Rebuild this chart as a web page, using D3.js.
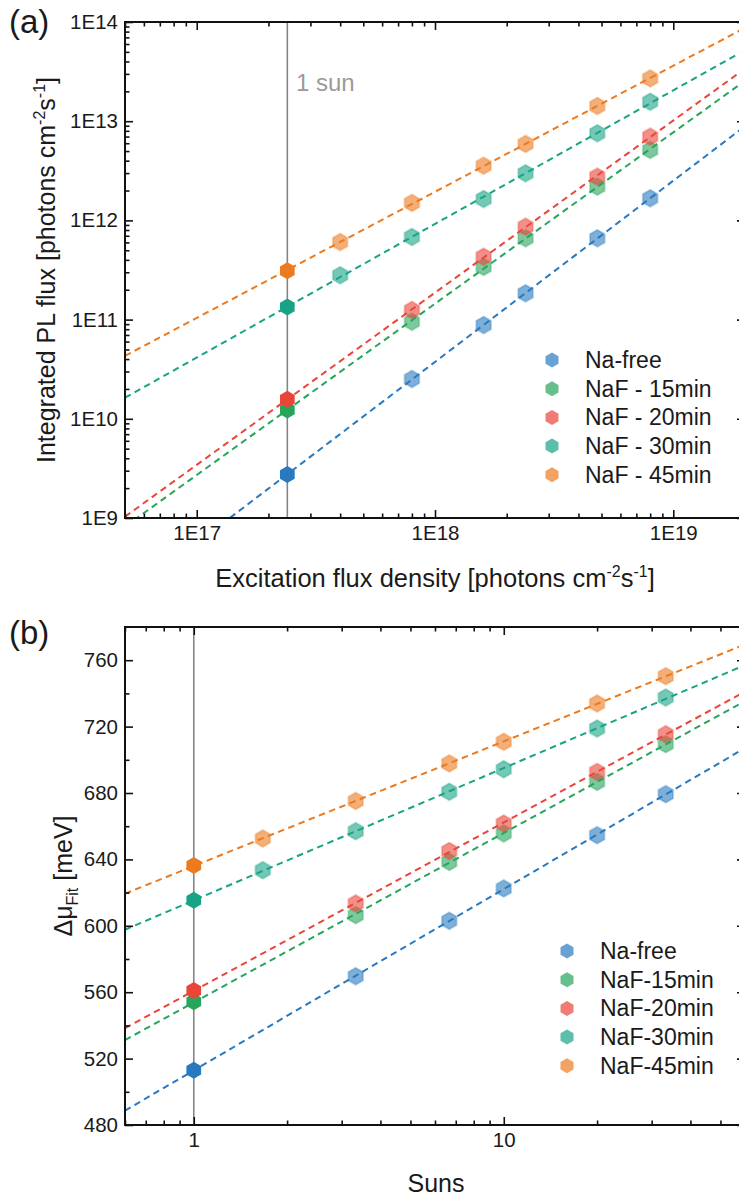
<!DOCTYPE html>
<html>
<head>
<meta charset="utf-8">
<script src="https://cdn.jsdelivr.net/npm/d3@7"></script>
<style>
body { margin: 0; background: #fff; }
text { font-family: Arial, "Liberation Sans", sans-serif; fill: #1a1a1a; }
</style>
</head>
<body>
<div id="chart"></div>
<script>
// legend names
var namesA = ["Na-free", "NaF - 15min", "NaF - 20min", "NaF - 30min", "NaF - 45min"];
var namesB = ["Na-free", "NaF-15min", "NaF-20min", "NaF-30min", "NaF-45min"];
var colors = ["#2879c0", "#27a55b", "#ea4539", "#18a386", "#ec7a1f"];

// (a) excitation flux density vs integrated PL flux
var fluxA = [2.4e17, 4e17, 8e17, 1.6e18, 2.4e18, 4.8e18, 8e18];
var plNaFree = [2.75e9, null, 2.52e10, 8.8e10, 1.84e11, 6.6e11, 1.67e12];
var plNaF15 = [1.23e10, null, 9.5e10, 3.4e11, 6.6e11, 2.19e12, 5.13e12];
var plNaF20 = [1.57e10, null, 1.25e11, 4.3e11, 8.65e11, 2.76e12, 6.98e12];
var plNaF30 = [1.34e11, 2.8e11, 6.8e11, 1.64e12, 2.98e12, 7.55e12, 1.57e13];
var plNaF45 = [3.1e11, 6.05e11, 1.5e12, 3.56e12, 5.9e12, 1.42e13, 2.7e13];
var xTicksA = [1e17, 1e18, 1e19];
var xLabelsA = ["1E17", "1E18", "1E19"];
var yTicksA = [1e9, 1e10, 1e11, 1e12, 1e13, 1e14];
var yLabelsA = ["1E9", "1E10", "1E11", "1E12", "1E13", "1E14"];
var oneSunFlux = 2.4e17;

// (b) suns vs delta mu
var sunsB = [1, 1.67, 3.33, 6.67, 10, 20, 33.3];
var muNaFree = [513, null, 569.6, 603, 622.5, 654.6, 679.3];
var muNaF15 = [554.2, null, 606.4, 638.5, 655.6, 686.7, 709.4];
var muNaF20 = [561, null, 613.5, 645, 661.6, 692.7, 715.4];
var muNaF30 = [615.4, 633.5, 657, 680.7, 694.3, 718.8, 737.5];
var muNaF45 = [636.3, 652.6, 675.2, 697.8, 710.8, 733.9, 750.4];
var xTicksB = [1, 10];
var xLabelsB = ["1", "10"];
var yTicksB = [480, 520, 560, 600, 640, 680, 720, 760];

var W = 739, H = 1200;
var svg = d3.select("#chart").append("svg").attr("width", W).attr("height", H);

function hexPath(r) {
	var p = [];
	for (var k = 0; k < 6; k++) {
		var a = (-90 + 60 * k) * Math.PI / 180;
		p.push([r * Math.cos(a), r * Math.sin(a)]);
	}
	return "M" + p.map(function(d) {return d[0].toFixed(2) + "," + d[1].toFixed(2);}).join("L") + "Z";
}

function logMinors(dom) {
	var out = [];
	var lo = Math.floor(Math.log10(dom[0])), hi = Math.ceil(Math.log10(dom[1]));
	for (var e = lo; e <= hi; e++) {
		for (var m = 1; m <= 9; m++) {
			var v = m * Math.pow(10, e);
			if (v >= dom[0] && v <= dom[1]) out.push(v);
		}
	}
	return out;
}

function fit(xs, ys, fx, fy) {
	// least squares on transformed values
	var px = [], py = [];
	xs.forEach(function(x, i) {
		if (ys[i] != null) { px.push(fx(x)); py.push(fy(ys[i])); }
	});
	var mx = d3.mean(px), my = d3.mean(py), sxy = 0, sxx = 0;
	for (var i = 0; i < px.length; i++) {
		sxy += (px[i] - mx) * (py[i] - my);
		sxx += (px[i] - mx) * (px[i] - mx);
	}
	var b = sxy / sxx;
	return {b: b, a: my - b * mx};
}

function panel(opt) {
	var g = svg.append("g");
	var x = opt.x, y = opt.y;
	var x0 = x.range()[0], x1 = x.range()[1], y0 = y.range()[0], y1 = y.range()[1];

	var clipId = "clip" + opt.id;
	svg.append("clipPath").attr("id", clipId)
		.append("rect").attr("x", x0).attr("y", y1).attr("width", x1 - x0).attr("height", y0 - y1);

	// 1 sun line
	g.append("line")
		.attr("x1", x(opt.sun)).attr("x2", x(opt.sun))
		.attr("y1", y1).attr("y2", y0)
		.attr("stroke", "#858585").attr("stroke-width", 1.6);

	var plot = g.append("g").attr("clip-path", "url(#" + clipId + ")");

	// faded points
	opt.series.forEach(function(s, si) {
		plot.selectAll(".pt" + si)
			.data(opt.xs.map(function(v, i) {return {x: v, y: s[i], i: i};}).filter(function(d) {return d.y != null && d.i > 0;}))
			.enter()
			.append("path")
			.attr("d", hexPath(8.5))
			.attr("transform", function(d) {return "translate(" + x(d.x) + "," + y(d.y) + ")";})
			.attr("fill", colors[si])
			.attr("fill-opacity", 0.6)
			.attr("stroke", colors[si])
			.attr("stroke-opacity", 0.3)
			.attr("stroke-width", 2);
	});

	// fit lines
	opt.series.forEach(function(s, si) {
		var f = fit(opt.xs, s, opt.fx, opt.fy);
		var xd = x.domain();
		var pts = xd.map(function(v) {return [x(v), y(opt.iy(f.a + f.b * opt.fx(v)))];});
		plot.append("path")
			.attr("d", d3.line()(pts))
			.attr("fill", "none")
			.attr("stroke", colors[si])
			.attr("stroke-width", 2)
			.attr("stroke-dasharray", "6.5,4.5");
	});

	// 1 sun points, solid
	opt.series.forEach(function(s, si) {
		plot.append("path")
			.attr("d", hexPath(8.5))
			.attr("transform", "translate(" + x(opt.xs[0]) + "," + y(s[0]) + ")")
			.attr("fill", colors[si]);
	});

	// axes with inward ticks
	function ax(gen, tr, vals, size, fmt) {
		var a = gen.tickValues(vals).tickSizeInner(-size).tickSizeOuter(0).tickPadding(size > 5 ? 7 : 0);
		a.tickFormat(fmt || function() {return "";});
		var s = g.append("g").attr("transform", tr).call(a);
		s.select(".domain").remove();
		s.selectAll(".tick line").attr("stroke", "#111").attr("stroke-width", 1.6);
		s.selectAll("text").attr("font-size", 20.5).attr("fill", "#1a1a1a").style("font-family", "Arial, 'Liberation Sans', sans-serif");
		return s;
	}
	var xMin = opt.xMinor, yMin = opt.yMinor;
	ax(d3.axisBottom(x), "translate(0," + y0 + ")", opt.xTicks, 8, function(d, i) {return opt.xLabels[i];});
	ax(d3.axisBottom(x), "translate(0," + y0 + ")", xMin, 4.5);
	ax(d3.axisTop(x), "translate(0," + y1 + ")", opt.xTicks, 8);
	ax(d3.axisTop(x), "translate(0," + y1 + ")", xMin, 4.5);
	ax(d3.axisLeft(y), "translate(" + x0 + ",0)", opt.yTicks, 8, function(d, i) {return opt.yLabels[i];});
	ax(d3.axisLeft(y), "translate(" + x0 + ",0)", yMin, 4.5);
	ax(d3.axisRight(y), "translate(" + x1 + ",0)", opt.yTicks, 8);
	ax(d3.axisRight(y), "translate(" + x1 + ",0)", yMin, 4.5);

	g.append("rect")
		.attr("x", x0).attr("y", y1).attr("width", x1 - x0).attr("height", y0 - y1)
		.attr("fill", "none").attr("stroke", "#111").attr("stroke-width", 2);

	// legend
	var lg = g.append("g").attr("transform", "translate(" + opt.legend[0] + "," + opt.legend[1] + ")");
	opt.names.forEach(function(n, i) {
		lg.append("path").attr("d", hexPath(7.5))
			.attr("transform", "translate(0," + (i * 28.7) + ")")
			.attr("fill", colors[i]).attr("fill-opacity", 0.7);
		lg.append("text").attr("x", 33).attr("y", i * 28.7 + 8)
			.attr("font-size", 23).text(n);
	});
	return g;
}

var xA = d3.scaleLog().domain([5e16, 2e19]).range([125, 745]);
var yA = d3.scaleLog().domain([1e9, 1e14]).range([518, 22]);
var ga = panel({
	id: "a", x: xA, y: yA, xs: fluxA,
	series: [plNaFree, plNaF15, plNaF20, plNaF30, plNaF45],
	fx: Math.log10, fy: Math.log10, iy: function(v) {return Math.pow(10, v);},
	sun: oneSunFlux,
	xTicks: xTicksA, xLabels: xLabelsA, yTicks: yTicksA, yLabels: yLabelsA,
	xMinor: logMinors(xA.domain()).filter(function(v) {return xTicksA.indexOf(v) < 0;}),
	yMinor: logMinors(yA.domain()).filter(function(v) {return yTicksA.indexOf(v) < 0;}),
	names: namesA, legend: [552, 360]
});

ga.append("text").attr("x", 296).attr("y", 91).attr("font-size", 24).style("fill", "#9a9a9a").text("1 sun");

var xtA = ga.append("text").attr("x", 435).attr("y", 587).attr("text-anchor", "middle").attr("font-size", 25.5);
xtA.append("tspan").text("Excitation flux density [photons cm");
xtA.append("tspan").attr("font-size", 16).attr("dy", -10).text("-2");
xtA.append("tspan").attr("dy", 10).text("s");
xtA.append("tspan").attr("font-size", 16).attr("dy", -10).text("-1");
xtA.append("tspan").attr("dy", 10).text("]");

var ytA = ga.append("text").attr("transform", "translate(55,270) rotate(-90)").attr("text-anchor", "middle").attr("font-size", 25);
ytA.append("tspan").text("Integrated PL flux [photons cm");
ytA.append("tspan").attr("font-size", 16).attr("dy", -10).text("-2");
ytA.append("tspan").attr("dy", 10).text("s");
ytA.append("tspan").attr("font-size", 16).attr("dy", -10).text("-1");
ytA.append("tspan").attr("dy", 10).text("]");

svg.append("text").attr("x", 9).attr("y", 33).attr("font-size", 33).text("(a)");

var xB = d3.scaleLog().domain([0.6, 60]).range([125, 745]);
var yB = d3.scaleLinear().domain([480, 780]).range([1125, 627]);
var gb = panel({
	id: "b", x: xB, y: yB, xs: sunsB,
	series: [muNaFree, muNaF15, muNaF20, muNaF30, muNaF45],
	fx: Math.log10, fy: function(v) {return v;}, iy: function(v) {return v;},
	sun: 1,
	xTicks: xTicksB, xLabels: xLabelsB, yTicks: yTicksB, yLabels: yTicksB.map(String),
	xMinor: logMinors(xB.domain()).filter(function(v) {return xTicksB.indexOf(v) < 0;}),
	yMinor: d3.range(500, 780, 40),
	names: namesB, legend: [567, 951]
});

gb.append("text").attr("x", 436).attr("y", 1192).attr("text-anchor", "middle").attr("font-size", 25).text("Suns");

var ytB = gb.append("text").attr("transform", "translate(72,876) rotate(-90)").attr("text-anchor", "middle").attr("font-size", 25);
ytB.append("tspan").text("\u0394\u03bc");
ytB.append("tspan").attr("font-size", 16).attr("dy", 6).text("Fit");
ytB.append("tspan").attr("dy", -6).text(" [meV]");

svg.append("text").attr("x", 9).attr("y", 644).attr("font-size", 33).text("(b)");
</script>
</body>
</html>
